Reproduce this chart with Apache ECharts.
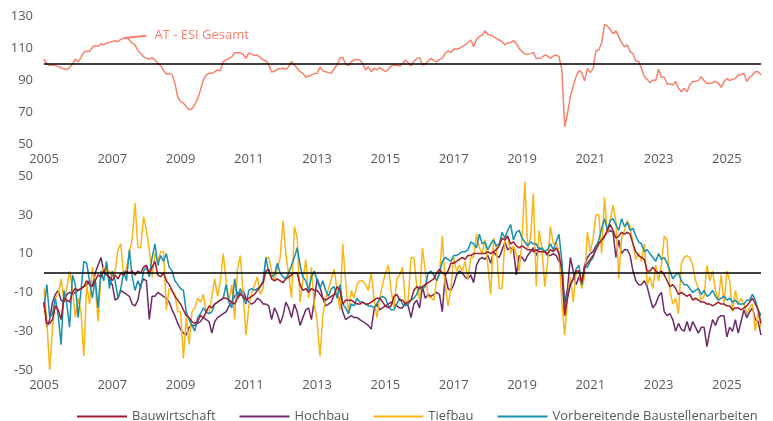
<!DOCTYPE html>
<html>
<head>
<meta charset="utf-8">
<title>ESI Bau</title>
<script src="https://cdn.jsdelivr.net/npm/echarts@6/dist/echarts.min.js"></script>
<style>
  html, body { margin: 0; padding: 0; background: #fff; }
  #chart { width: 773px; height: 421px; }
</style>
</head>
<body>
<div id="chart"></div>
<script>
// monthly categories, 2005-01 .. 2026-01
const months = []
for (let y = 2005; y <= 2026; y++) {
  for (let m = 1; m <= 12; m++) months.push(y + '-' + String(m).padStart(2, '0'))
}
months.length = 253

const topTicks = [50, 70, 90, 110, 130]
const bottomTicks = [-50, -30, -10, 10, 30, 50]

const esiGesamt = [
  103, 100, 99, 99.5, 99, 98.5, 97.5, 97, 96.5, 98, 100, 103,
  101.5, 104, 107.5, 108, 108, 110.5, 111.5, 111, 112.5, 112, 113, 113.5,
  114, 114.5, 114, 115.5, 116, 116.5, 115, 113, 112, 108.5, 106.5, 104.5,
  103.5, 103, 104, 102.5, 100.5, 99, 96, 93.8, 94, 93.5, 88, 79.5,
  76.5, 75.5, 73.5, 71.3, 72, 74.5, 78.5, 83.8, 90, 93, 94.2, 94.2,
  95.2, 96.3, 96, 101.5, 102.5, 103.5, 104.5, 107, 107, 107, 106, 103.5,
  107, 106, 105.5, 105.5, 104, 102.5, 102, 99.5, 95, 95.5, 96.7, 97,
  97.3, 96.7, 98.3, 101.5, 99.5, 97.3, 95.2, 94.2, 91.7, 92.5, 93, 94,
  94.2, 98, 95.8, 95.2, 94.6, 94.2, 97.3, 99.4, 103.8, 104, 100, 99,
  101.5, 102.5, 102.9, 102.5, 100.4, 96.2, 98.3, 95.2, 97.3, 96.3, 97.7, 96.5,
  95.2, 96.7, 98.7, 99.4, 99, 98.7, 100, 102.5, 100.8, 98.8, 101.5, 103.5,
  104, 99.4, 100, 101.9, 103.5, 102.1, 101.3, 102.9, 103.5, 106.7, 108.3, 107.1,
  109.4, 109.2, 109.8, 110.8, 111.9, 113.3, 115, 110.8, 115.4, 117.1, 118.1, 120.6,
  118.5, 118.1, 117.1, 116, 115, 114, 111.9, 113.3, 113.3, 114.6, 112.9, 109.8,
  107.7, 106.3, 106, 106.5, 107.3, 103.5, 103.5, 104, 105.6, 105, 103.5, 105,
  105.6, 104.6, 96.3, 60.8, 69.2, 79.6, 86.3, 92.1, 95.8, 94.6, 89.4, 97.3,
  94.6, 97.3, 108.3, 108.8, 113.3, 124.8, 123.8, 121.7, 118.8, 120.8, 117.1, 113.3,
  110.8, 111.9, 107.7, 106.3, 101.9, 101.5, 97.3, 92.1, 90.4, 88.3, 90, 89.6,
  96.7, 91.7, 91.7, 87.5, 87.5, 86.9, 89, 84.8, 82.7, 84.8, 82.7, 87,
  89, 89.2, 89.6, 92.1, 89.6, 87.9, 87.9, 88.3, 89.2, 87.9, 85.4, 89,
  91, 89.6, 90.5, 91, 93.1, 93.5, 94.2, 89, 91.7, 93.1, 95.2, 95.2,
  93.1
]

const bauwirtschaft = [
  -15, -26, -26, -24, -17, -19, -24, -13, -14, -15, -10, -8,
  -9, -8, -7, -4, -6, -7, -4, -1, -2, 1, -1, -2,
  -4, -1, -3, 0, -1, 1, 0, 1, -1, 1, 0, 3,
  4, 0, 3, 6, -1, -2, 0, -4, -6, -9, -12, -14,
  -16, -19, -22, -23, -25, -26, -25, -22, -23, -20, -17, -18,
  -16, -15, -14, -13, -13, -14, -15, -16, -13, -11, -12, -14,
  -13, -12, -11, -9, -7, -5, 1, 2, -3, -4, -3, -4,
  -5, -3, -2, -1, 0, 0, -6, -9, -8, -10, -8, -9,
  -9, -11, -13, -14, -13, -12, -11, -7, -9, -16, -14, -14,
  -14, -15, -16, -16, -15, -16, -16, -15, -14, -13, -13, -15,
  -17, -18, -17, -12, -11, -14, -14, -16, -15, -14, -9, -7,
  -8, -7, -6, -5, -4, -3, 0, 2, 0, -1, 1, 5,
  5, 6, 7, 8, 7, 9, 9, 10, 10, 10, 10, 10,
  11, 10, 11, 12, 14, 18, 17, 19, 15, 16, 14, 13,
  14, 13, 12, 12, 11, 12, 11, 11, 11, 10, 12, 11,
  13, 10, 1, -22, -13, -6, -3, 1, 1, -5, 3, 5,
  7, 9, 12, 15, 17, 19, 22, 25, 22, 18, 19, 21,
  20, 21, 20, 15, 11, 9, 8, 7, 1, 1, 3, 1,
  0, 1, -1, -4, -7, -6, -8, -11, -10, -11, -12, -11,
  -14, -13, -14, -15, -15, -16, -16, -17, -16, -15, -16, -16,
  -17, -17, -19, -18, -18, -19, -18, -17, -15, -13, -16, -19,
  -26
]

const hochbau = [
  -15, -28, -24, -15, -11, -9, -14, -15, -11, -10, -11, -10,
  -9, -8, -7, -6, -4, -7, 0, 4, 8, 1, 3, -4,
  -6, -14, -13, -9, -10, -11, -12, -16, -17, -14, -6, -3,
  -4, -24, -12, -12, -10, -11, -12, -13, -15, -19, -22, -26,
  -29, -31, -32, -28, -27, -27, -26, -25, -23, -24, -25, -31,
  -25, -23, -22, -21, -20, -17, -15, -12, -10, -11, -9, -13,
  -15, -16, -15, -13, -14, -16, -16, -17, -24, -18, -21, -26,
  -22, -15, -18, -23, -16, -20, -27, -23, -19, -18, -24, -14,
  -3, -7, -13, -17, -16, -15, -11, -11, -14, -20, -24, -23,
  -22, -23, -23, -24, -25, -26, -27, -29, -19, -16, -19, -18,
  -17, -16, -15, -16, -17, -18, -18, -15, -17, -23, -16, -14,
  -18, -7, -13, -11, -12, -11, -10, -11, -20, -1, -8, -9,
  -6, -1, 1, 0, -2, -3, -1, -5, 4, 7, 8, 7,
  9, 5, 11, 9, 8, 12, 16, 12, 13, 12, -1, 9,
  8, 6, 9, 11, 13, 9, 13, 12, 11, 9, 9, 10,
  9, 6, 5, -16, -8, 8, 1, -6, -2, -6, 4, 8,
  10, 11, 14, 16, 16, 19, 21, 22, 21, 8, 17, 10,
  12, 12, 9, 1, -4, -6, -6, -4, -7, -13, -18, -16,
  -12, -10, -20, -22, -21, -24, -30, -26, -29, -30, -25, -30,
  -25, -28, -31, -28, -28, -38, -30, -24, -27, -23, -22, -22,
  -33, -28, -30, -24, -31, -25, -19, -23, -20, -18, -24, -25,
  -32
]

const tiefbau = [
  -8, -25, -50, -28, -13, -11, -3, -14, -8, 1, -8, -23,
  -13, -20, -43, -6, -16, 3, -6, -25, -1, 3, 1, 1,
  -2, 1, 12, 15, -2, 3, 10, 18, 36, 13, 13, 29,
  22, 12, -2, 10, 6, 11, 11, -19, -8, -9, -11, -20,
  -20, -44, -23, -37, -20, -18, -13, -15, -11, -20, -21, -12,
  -3, -12, -4, 10, -4, -15, -6, -24, 2, 9, -11, -32,
  -17, -10, -6, -2, -11, -8, 8, 8, 1, -4, 2, 8,
  27, 10, -1, -13, 24, 18, -15, -4, 7, -13, 3, -16,
  -25, -43, -22, -13, -8, -3, 2, -9, -19, 15, -4, -21,
  -9, -13, -6, -4, -4, -6, -9, 0, -13, -23, -13, -6,
  0, 4, -9, -18, -3, -1, 3, -15, -14, 8, 8, -7,
  -14, 13, 1, -12, -13, -14, -4, -1, 19, -6, -17, -8,
  8, 1, 4, 1, 6, -3, 8, 8, 20, 13, 10, 17,
  4, -11, 18, 13, -8, -8, 18, 19, 10, 14, 10, 1,
  17, 47, 13, 18, 41, -7, 22, 13, -7, 6, 24, 15,
  16, 11, -15, -32, -13, -2, -15, 0, 1, -8, -2, 21,
  11, 18, 30, 30, 10, 39, 20, 27, 35, 27, -3, 18,
  22, 27, 24, 15, 7, 10, 6, 15, -6, -2, -8, 4,
  -4, 4, 19, 17, -9, -16, -13, -21, 5, 8, 9, 8,
  4, -4, -8, -14, -12, 4, -4, 1, -9, -14, -1, -16,
  1, -4, -20, -9, -16, -13, -16, -21, -18, -16, -30, -20,
  -28
]

const vorbereitende = [
  -18, -6, -23, -21, -13, -22, -37, -9, -16, -28, -1, -6,
  -23, -9, 6, 5, -4, -13, -3, -18, 1, -4, 6, -8,
  1, -4, -13, -8, 1, -4, 12, -2, -9, -4, -8, 1,
  3, -2, 8, 15, 4, 9, 6, 10, 3, 1, -4, -6,
  -8, -9, -20, -24, -27, -30, -23, -21, -18, -20, -21, -20,
  -16, -15, -14, -13, -6, -15, -18, -3, -13, -8, -13, -16,
  -9, -8, -9, -8, -7, -4, 8, 0, -2, -1, 5, 0,
  -2, -3, 0, 4, 8, 13, 4, -2, -4, -9, -2, 1,
  -4, -8, -4, -9, -12, -8, -7, -13, -6, -16, -18, -21,
  -16, -17, -13, -15, -15, -16, -17, -17, -18, -16, -13, -12,
  -13, -17, -19, -19, -16, -13, -16, -17, -16, -14, -13, -11,
  -7, -8, -7, 0, 1, -1, -4, 0, 6, 8, 7, 6,
  9, 9, 10, 11, 11, 12, 16, 15, 13, 20, 15, 16,
  12, 15, 17, 14, 15, 21, 18, 22, 25, 17, 21, 22,
  18, 16, 14, 16, 15, 15, 12, 13, 11, 12, 15, 12,
  16, 20, 6, -20, -11, -6, -3, 2, 4, -6, 3, 3,
  6, 8, 13, 17, 23, 28, 22, 27, 28, 25, 22, 28,
  24, 26, 22, 23, 19, 16, 15, 11, 12, 10, 8, 6,
  10, 7, 8, 5, 1, -3, -1, 0, -4, -6, -6, -8,
  -10, -9, -8, -11, -9, -12, -11, -9, -12, -14, -13, -12,
  -14, -13, -15, -14, -16, -16, -16, -14, -14, -11, -14, -19,
  -22
]

const textColor = '#595959'
const font = 'Open Sans'
const salmon = '#F9806A'

function xAxis(gridIndex) {
  return {
    type: 'category',
    gridIndex,
    data: months,
    boundaryGap: false,
    axisLine: { show: false },
    axisTick: { show: false },
    axisLabel: {
      interval: (i) => i % 24 === 0,
      formatter: (v) => v.slice(0, 4),
      color: textColor,
      fontFamily: font,
      fontSize: 13,
      margin: 9,
    },
  }
}

function yAxis(gridIndex, ticks) {
  return {
    type: 'value',
    gridIndex,
    min: ticks[0],
    max: ticks[ticks.length - 1],
    interval: ticks[1] - ticks[0],
    splitLine: { show: false },
    axisLine: { show: false },
    axisTick: { show: false },
    axisLabel: { color: textColor, fontFamily: font, fontSize: 13, margin: 11 },
  }
}

function refLine(y) {
  return {
    silent: true,
    symbol: 'none',
    label: { show: false },
    lineStyle: { color: '#000', width: 1.5, type: 'solid' },
    data: [{ yAxis: y }],
  }
}

function bottomSeries(name, data, color, extra) {
  return Object.assign({
    name,
    type: 'line',
    xAxisIndex: 1,
    yAxisIndex: 1,
    data,
    symbol: 'none',
    lineStyle: { color, width: 1.5 },
    itemStyle: { color },
  }, extra || {})
}

const chart = echarts.init(document.getElementById('chart'))
chart.setOption({
  animation: false,
  backgroundColor: '#fff',
  grid: [
    { left: 44, right: 12, top: 16, height: 128 },
    { left: 44, right: 12, top: 176, height: 194 },
  ],
  xAxis: [xAxis(0), xAxis(1)],
  yAxis: [yAxis(0, topTicks), yAxis(1, bottomTicks)],
  legend: {
    data: ['Bauwirtschaft', 'Hochbau', 'Tiefbau', 'Vorbereitende Baustellenarbeiten'],
    left: 72,
    top: 405,
    icon: 'rect',
    itemWidth: 50,
    itemHeight: 2,
    itemGap: 24,
    textStyle: { color: textColor, fontFamily: font, fontSize: 13 },
  },
  series: [
    {
      name: 'AT - ESI Gesamt',
      type: 'line',
      data: esiGesamt,
      symbol: 'none',
      lineStyle: { color: salmon, width: 1.5 },
      itemStyle: { color: salmon },
      markLine: {
        silent: true,
        symbol: 'none',
        data: [
          { yAxis: 100, lineStyle: { color: '#000', width: 1.5, type: 'solid' }, label: { show: false } },
          [
            { coord: [28, 116.3], lineStyle: { color: salmon, width: 2, type: 'solid' } },
            {
              coord: [36, 117.6],
              label: {
                show: true,
                position: 'end',
                distance: 8,
                formatter: 'AT - ESI Gesamt',
                color: salmon,
                fontFamily: font,
                fontSize: 13,
              },
            },
          ],
        ],
      },
    },
    bottomSeries('Hochbau', hochbau, '#6E2A68'),
    bottomSeries('Tiefbau', tiefbau, '#FBB516'),
    bottomSeries('Vorbereitende Baustellenarbeiten', vorbereitende, '#1790B0'),
    bottomSeries('Bauwirtschaft', bauwirtschaft, '#A01D2D', { markLine: refLine(0) }),
  ],
})
</script>
</body>
</html>
